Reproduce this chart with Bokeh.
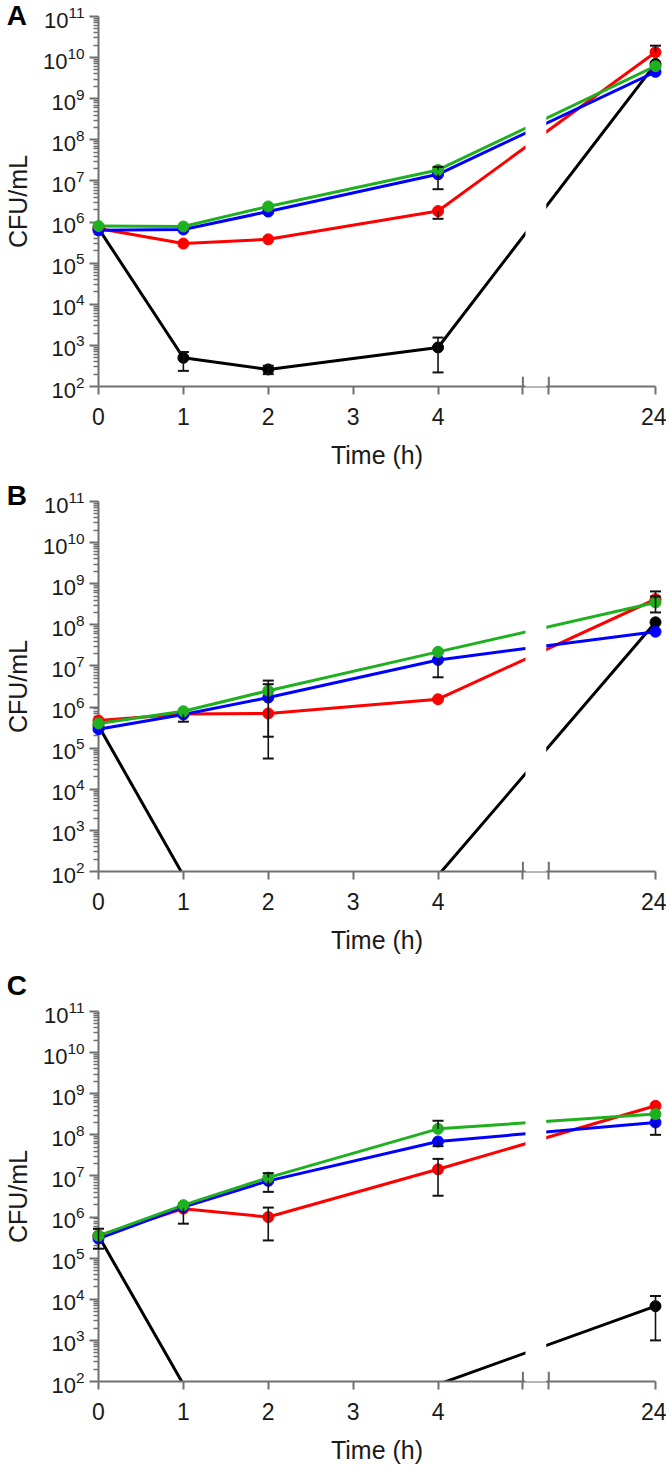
import math
from bokeh.plotting import figure
from bokeh.models import Range1d, FixedTicker, BoxAnnotation
from bokeh.core.properties import value
from bokeh.layouts import column
from bokeh.embed import file_html
from bokeh.resources import INLINE

# ---------------- data ----------------
TIMES = [0, 1, 2, 4, 24]
X_TICK_TEXT = ["0", "1", "2", "3", "4", "24"]
PANEL_LETTERS = ["A", "B", "C"]
LOD = 1e2  # values at or below this are below detection (not marked)
NAN = float("nan")

# Panel A
A_BLACK = [7.0e5, 5.0e2, 2.6e2, 8.9e2, 7.0e9]
A_RED = [7.0e5, 3.0e5, 3.8e5, 1.85e6, 1.35e10]
A_BLUE = [6.3e5, 6.6e5, 1.8e6, 1.45e7, 4.5e9]
A_GREEN = [8.0e5, 7.8e5, 2.4e6, 1.85e7, 6.2e9]
A_BLACK_LO = [NAN, 2.4e2, 2.0e2, 2.2e2, NAN]
A_BLACK_HI = [NAN, 6.9e2, 3.2e2, 1.55e3, NAN]
A_RED_LO = [NAN, NAN, NAN, 1.2e6, NAN]
A_RED_HI = [NAN, NAN, NAN, NAN, 1.95e10]
A_BLUE_LO = [NAN, NAN, NAN, 6.3e6, NAN]
A_BLUE_HI = [NAN, NAN, NAN, NAN, NAN]
A_GREEN_LO = [NAN, NAN, NAN, NAN, NAN]
A_GREEN_HI = [NAN, NAN, NAN, 2.2e7, NAN]

# Panel B
B_BLACK = [3.5e5, 80, 80, 80, 1.15e8]
B_RED = [4.7e5, 6.8e5, 7.0e5, 1.55e6, 4.2e8]
B_BLUE = [2.9e5, 6.6e5, 1.7e6, 1.4e7, 6.8e7]
B_GREEN = [4.0e5, 7.9e5, 2.5e6, 2.2e7, 3.5e8]
B_BLACK_LO = [NAN, NAN, NAN, NAN, NAN]
B_BLACK_HI = [NAN, NAN, NAN, NAN, NAN]
B_RED_LO = [NAN, NAN, 5.6e4, NAN, NAN]
B_RED_HI = [NAN, NAN, NAN, NAN, 6.5e8]
B_BLUE_LO = [NAN, 4.4e5, NAN, 5.3e6, NAN]
B_BLUE_HI = [NAN, NAN, 3.6e6, NAN, NAN]
B_GREEN_LO = [NAN, NAN, 1.9e5, NAN, 2.0e8]
B_GREEN_HI = [NAN, NAN, 4.4e6, NAN, 4.9e8]

# Panel C
C_BLACK = [3.5e5, 85, 85, 85, 6.8e3]
C_RED = [3.5e5, 1.6e6, 1.0e6, 1.45e7, 5.1e8]
C_BLUE = [3.0e5, 1.75e6, 7.6e6, 6.9e7, 2.0e8]
C_GREEN = [3.5e5, 1.95e6, 9.1e6, 1.4e8, 3.2e8]
C_BLACK_LO = [1.7e5, NAN, NAN, NAN, 1.0e3]
C_BLACK_HI = [5.2e5, NAN, NAN, NAN, 1.2e4]
C_RED_LO = [NAN, 6.9e5, 2.7e5, 3.3e6, NAN]
C_RED_HI = [NAN, NAN, 1.7e6, 2.6e7, NAN]
C_BLUE_LO = [NAN, NAN, 4.1e6, 5.3e7, 1.0e8]
C_BLUE_HI = [NAN, NAN, NAN, NAN, NAN]
C_GREEN_LO = [NAN, NAN, NAN, NAN, NAN]
C_GREEN_HI = [NAN, NAN, 1.17e7, 2.2e8, NAN]

# ---------------- layout / style ----------------
GAP_LO = 5.0        # axis position where left segment ends
GAP_HI = 5.305      # axis position where right segment starts
POS_24 = 6.562      # axis position of the 24 h tick
Y_MIN, Y_MAX = 1e2, 1e11
FONT = "Liberation Sans"
AXIS_COLOR = "#707070"
TEXT_COLOR = "#1a1a1a"
ERR_COLOR = "#111111"
COLORS = {"black": "#000000", "red": "#ff0000", "blue": "#0000ff", "green": "#1fb01f"}
LETTER_X = -1.08

X_POS = [t if t <= GAP_LO else POS_24 for t in TIMES]
X_TICKS = [0, 1, 2, 3, 4, GAP_LO, GAP_HI, POS_24]
X_TICK_LABELS = {0: "0", 1: "1", 2: "2", 3: "3", 4: "4", GAP_LO: "", GAP_HI: "", POS_24: "24"}

FRAME_H = 373
PANELS = [
    dict(letter="A", border_top=16, border_bottom=82, letter_y=10 ** 11.02,
         series=[("black", A_BLACK, A_BLACK_LO, A_BLACK_HI), ("red", A_RED, A_RED_LO, A_RED_HI),
                 ("blue", A_BLUE, A_BLUE_LO, A_BLUE_HI), ("green", A_GREEN, A_GREEN_LO, A_GREEN_HI)]),
    dict(letter="B", border_top=30, border_bottom=82, letter_y=10 ** 11.145,
         series=[("black", B_BLACK, B_BLACK_LO, B_BLACK_HI), ("red", B_RED, B_RED_LO, B_RED_HI),
                 ("blue", B_BLUE, B_BLUE_LO, B_BLUE_HI), ("green", B_GREEN, B_GREEN_LO, B_GREEN_HI)]),
    dict(letter="C", border_top=55, border_bottom=82, letter_y=10 ** 11.63,
         series=[("black", C_BLACK, C_BLACK_LO, C_BLACK_HI), ("red", C_RED, C_RED_LO, C_RED_HI),
                 ("blue", C_BLUE, C_BLUE_LO, C_BLUE_HI), ("green", C_GREEN, C_GREEN_LO, C_GREEN_HI)]),
]


def make_panel(cfg):
    p = figure(width=666, height=cfg["border_top"] + FRAME_H + cfg["border_bottom"],
               x_range=Range1d(0, POS_24), y_range=Range1d(Y_MIN, Y_MAX),
               y_axis_type="log", output_backend="svg", toolbar_location=None,
               min_border_left=97, min_border_right=11,
               min_border_top=cfg["border_top"], min_border_bottom=cfg["border_bottom"])
    p.grid.visible = False
    p.outline_line_color = None

    # y axis
    ya = p.yaxis[0]
    ya.ticker = FixedTicker(ticks=[10 ** k for k in range(2, 12)],
                            minor_ticks=[m * 10 ** k for k in range(2, 11) for m in range(2, 10)])
    ya.axis_label = "CFU/mL"
    ya.major_tick_out = 9
    ya.major_tick_in = 0
    ya.minor_tick_out = 5
    ya.minor_tick_in = 0
    ya.major_label_standoff = 5
    ya.axis_label_standoff = 8

    # x axis
    xa = p.xaxis[0]
    xa.ticker = FixedTicker(ticks=X_TICKS, minor_ticks=[])
    xa.major_label_overrides = X_TICK_LABELS
    xa.axis_label = "Time (h)"
    xa.major_tick_out = 8
    xa.major_tick_in = 0
    xa.major_label_standoff = 13
    xa.axis_label_standoff = 13

    for ax in (xa, ya):
        ax.axis_line_color = AXIS_COLOR
        ax.axis_line_width = 2
        ax.major_tick_line_color = AXIS_COLOR
        ax.major_tick_line_width = 2
        ax.minor_tick_line_color = AXIS_COLOR
        ax.minor_tick_line_width = 1.5
        ax.major_label_text_font = FONT
        ax.major_label_text_font_size = "22px"
        ax.major_label_text_color = TEXT_COLOR
        ax.axis_label_text_font = FONT
        ax.axis_label_text_font_size = "25px"
        ax.axis_label_text_font_style = "normal"
        ax.axis_label_text_color = TEXT_COLOR
    xa.major_label_text_font_size = "23px"

    # series lines (clipped to the plotting frame)
    for name, vals, lo, hi in cfg["series"]:
        p.line(X_POS, vals, line_color=COLORS[name], line_width=3)

    # axis break: inward ticks at both ends of the gap
    p.segment([GAP_LO, GAP_HI], [Y_MIN, Y_MIN], [GAP_LO, GAP_HI], [10 ** 2.24, 10 ** 2.24],
              line_color=AXIS_COLOR, line_width=2)

    # markers (not clipped, so points on the axes show whole)
    for name, vals, lo, hi in cfg["series"]:
        col = COLORS[name]
        idx = [i for i, v in enumerate(vals) if v > LOD]
        p.scatter([X_POS[i] for i in idx], [vals[i] for i in idx], size=11,
                  fill_color=col, line_color=col, level="annotation")

    # error bars
    for name, vals, lo, hi in cfg["series"]:
        x0, y0, y1, cx, cy = [], [], [], [], []
        for i, v in enumerate(vals):
            l, h = lo[i], hi[i]
            if math.isnan(l) and math.isnan(h):
                continue
            x0.append(X_POS[i])
            y0.append(v if math.isnan(l) else l)
            y1.append(v if math.isnan(h) else h)
            for e in (l, h):
                if not math.isnan(e):
                    cx.append(X_POS[i])
                    cy.append(e)
        if x0:
            p.segment(x0, y0, x0, y1, line_color=ERR_COLOR, line_width=1.6, level="annotation")
            p.scatter(cx, cy, marker="dash", size=11, line_color=ERR_COLOR, line_width=2,
                      level="annotation")

    # white mask over the axis break (covers lines and the axis line)
    p.add_layout(BoxAnnotation(left=GAP_LO + 0.03, right=GAP_HI - 0.03, bottom=10 ** 1.5,
                               fill_color="white", fill_alpha=1.0, line_color=None))

    # panel letter
    p.text(x=[LETTER_X], y=[cfg["letter_y"]], text=[cfg["letter"]], text_font=value(FONT),
           text_font_size="28px", text_font_style="bold", text_color="#000000",
           text_align="left", text_baseline="middle", level="annotation")
    return p


layout = column(*[make_panel(c) for c in PANELS], spacing=0)
open("out.html", "w").write(file_html(layout, INLINE))
